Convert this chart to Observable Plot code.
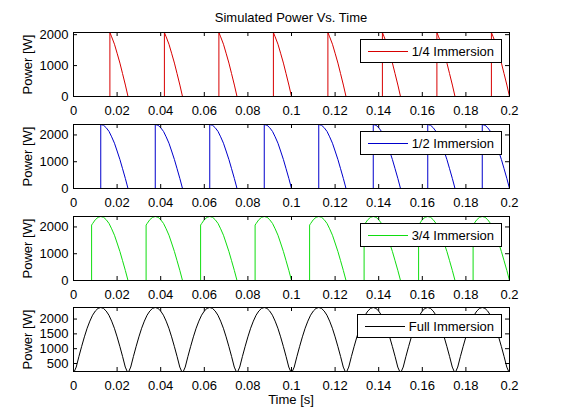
<!DOCTYPE html>
<html>
<head>
<meta charset="utf-8">
<script src="https://cdn.jsdelivr.net/npm/d3@7"></script>
<script src="https://cdn.jsdelivr.net/npm/@observablehq/plot@0.6"></script>
<style>
  body { margin: 0; background: #fff; font-family: "Liberation Sans", Arial, sans-serif; color: #000; }
  #fig { position: relative; width: 561px; height: 420px; }
  #fig svg { position: absolute; left: 0; overflow: visible; }
  .txt { position: absolute; left: 73px; width: 436px; text-align: center; font-size: 13px; line-height: 13px; }
  .leg { position: absolute; right: 59px; height: 22px; border: 1px solid #000; background: #fff;
         display: flex; align-items: center; padding: 0 7px 0 7px; font-size: 13px; }
  .leg span { display: inline-block; width: 40px; height: 1px; margin-right: 4px; }
</style>
</head>
<body>
<div id="fig">
  <div class="txt" style="top:11px">Simulated Power Vs. Time</div>
  <div class="txt" style="top:393px">Time [s]</div>
</div>
<script>
// cycle start times (s), same for every panel
const cycleStarts = [0, 0.025, 0.05, 0.075, 0.1, 0.125, 0.15, 0.175];

// one cycle of each trace: time from cycle start (s) and power (W)
const quarterT = [0, 0.0167, 0.0167, 0.0175, 0.0188, 0.02, 0.0213, 0.0225, 0.0238, 0.025];
const quarterP = [0, 0, 2070, 1930, 1690, 1400, 1080, 740, 370, 0];

const halfT = [0, 0.0125, 0.0125, 0.0138, 0.015, 0.0163, 0.0175, 0.0188, 0.02, 0.0213, 0.0225, 0.0238, 0.025];
const halfP = [0, 0, 2390, 2360, 2270, 2130, 1930, 1690, 1400, 1080, 740, 370, 0];

const threeQT = [0, 0.0083, 0.0083, 0.0088, 0.01, 0.0113, 0.0125, 0.0138, 0.015, 0.0163, 0.0175, 0.0188, 0.02, 0.0213, 0.0225, 0.0238, 0.025];
const threeQP = [0, 0, 2070, 2130, 2270, 2360, 2390, 2360, 2270, 2130, 1930, 1690, 1400, 1080, 740, 370, 0];

const fullT = [0, 0.00125, 0.0025, 0.00375, 0.005, 0.00625, 0.0075, 0.00875, 0.01, 0.01125, 0.0125,
               0.01375, 0.015, 0.01625, 0.0175, 0.01875, 0.02, 0.02125, 0.0225, 0.02375, 0.025];
const fullP = [170, 380, 740, 1080, 1400, 1690, 1930, 2130, 2270, 2360, 2390,
               2360, 2270, 2130, 1930, 1690, 1400, 1080, 740, 380, 170];

const names = ["1/4 Immersion", "1/2 Immersion", "3/4 Immersion", "Full Immersion"];
const timeTicks = [0, 0.02, 0.04, 0.06, 0.08, 0.1, 0.12, 0.14, 0.16, 0.18, 0.2];
const powerTicks = [0, 1000, 2000];
const powerTicksFull = [500, 1000, 1500, 2000];

const panels = [
  {name: names[0], t: quarterT, p: quarterP, y: [0, 2070], ticks: powerTicks, color: "#d80000"},
  {name: names[1], t: halfT, p: halfP, y: [0, 2390], ticks: powerTicks, color: "#0000cc"},
  {name: names[2], t: threeQT, p: threeQP, y: [0, 2390], ticks: powerTicks, color: "#10dd10"},
  {name: names[3], t: fullT, p: fullP, y: [230, 2390], ticks: powerTicksFull, color: "#000000"}
];

const panelTops = [32, 124, 216, 307];
const W = 561, ML = 73, MR = 52, MT = 8, MB = 26, FH = 64, FW = W - ML - MR;
const fig = document.getElementById("fig");

panels.forEach((d, i) => {
  const rows = cycleStarts.flatMap(s => d.t.map((t, j) => ({t: s + t, p: d.p[j]})));
  const chart = Plot.plot({
    width: W,
    height: MT + FH + MB,
    marginLeft: ML, marginRight: MR, marginTop: MT, marginBottom: MB,
    style: {background: "transparent", fontFamily: "'Liberation Sans', Arial, sans-serif", fontSize: "13px", color: "#000", overflow: "visible"},
    x: {domain: [0, 0.2]},
    y: {domain: d.y},
    marks: [
      Plot.line(rows, {x: "t", y: "p", stroke: d.color, strokeWidth: 1, clip: true}),
      Plot.frame(),
      Plot.tickX(timeTicks, {x: v => v, insetTop: FH - 4}),
      Plot.tickX(timeTicks, {x: v => v, insetBottom: FH - 4}),
      Plot.tickY(d.ticks, {y: v => v, insetRight: FW - 4}),
      Plot.tickY(d.ticks, {y: v => v, insetLeft: FW - 4}),
      Plot.axisX({ticks: timeTicks, tickSize: 0, tickPadding: 9, tickFormat: v => String(v), label: null}),
      Plot.axisY({ticks: d.ticks, tickSize: 0, tickPadding: 5, tickFormat: v => String(v), label: null}),
      Plot.text(["Power [W]"], {frameAnchor: "left", textAnchor: "middle", rotate: -90, dx: -46, text: v => v})
    ]
  });
  chart.style.top = (panelTops[i] - MT) + "px";
  chart.style.zIndex = 4 - i;
  fig.append(chart);

  // legend box in the upper right corner of the panel
  const leg = document.createElement("div");
  leg.className = "leg";
  leg.style.top = (panelTops[i] + 7) + "px";
  leg.style.zIndex = 10;
  leg.innerHTML = `<span style="background:${d.color}"></span>${d.name}`;
  fig.append(leg);
});
</script>
</body>
</html>
